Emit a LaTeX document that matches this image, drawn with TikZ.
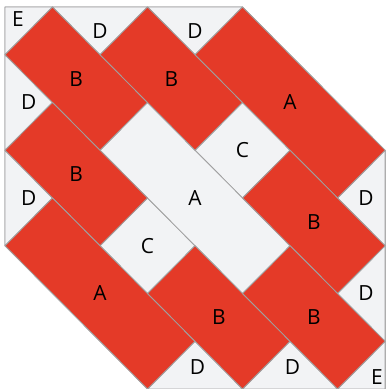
\documentclass[tikz,border=0pt]{standalone}
\usepackage{fontspec}
\setsansfont{Open Sans}
\usepackage{xcolor}
\definecolor{quiltred}{HTML}{E43A28}
\definecolor{quiltlight}{HTML}{F2F3F5}
\definecolor{seamgray}{HTML}{A0A0A0}
\usepackage{tikz}
\tikzset{
    redpatch/.style={
        fill=quiltred,
        draw=seamgray,
        line width=0.5pt,
        line join=round,
    },
    lightpatch/.style={
        fill=quiltlight,
        draw=seamgray,
        line width=0.5pt,
        line join=round,
    },
    patchlabel/.style={
        font=\sffamily\fontsize{12.5}{14}\selectfont,
        text=black,
        inner sep=0pt,
    },
}

\begin{document}
\begin{tikzpicture}[x=1cm, y=-1.005cm]
    \useasboundingbox (-0.105,-0.1466) rectangle (8.021,8.0);

    % light patches
    \draw[lightpatch] (0,0) -- (5,0) -- (8,3) -- (8,8) -- (3,8) -- (0,5) -- cycle;
    \draw[lightpatch] (0,0) -- (1,0) -- (0,1) -- cycle;
    \draw[lightpatch] (7,8) -- (8,8) -- (8,7) -- cycle;
    \draw[lightpatch] (1,0) -- (3,0) -- (2,1) -- cycle;
    \draw[lightpatch] (3,0) -- (5,0) -- (4,1) -- cycle;
    \draw[lightpatch] (0,1) -- (1,2) -- (0,3) -- cycle;
    \draw[lightpatch] (0,3) -- (1,4) -- (0,5) -- cycle;
    \draw[lightpatch] (8,3) -- (8,5) -- (7,4) -- cycle;
    \draw[lightpatch] (8,5) -- (8,7) -- (7,6) -- cycle;
    \draw[lightpatch] (3,8) -- (5,8) -- (4,7) -- cycle;
    \draw[lightpatch] (5,8) -- (7,8) -- (6,7) -- cycle;
    \draw[lightpatch] (2,5) -- (3,4) -- (4,5) -- (3,6) -- cycle;
    \draw[lightpatch] (4,3) -- (5,2) -- (6,3) -- (5,4) -- cycle;
    \draw[lightpatch] (2,3) -- (3,2) -- (6,5) -- (5,6) -- cycle;

    % red patches
    \draw[redpatch] (0,1) -- (1,0) -- (3,2) -- (2,3) -- cycle;
    \draw[redpatch] (2,1) -- (3,0) -- (5,2) -- (4,3) -- cycle;
    \draw[redpatch] (4,1) -- (5,0) -- (8,3) -- (7,4) -- cycle;
    \draw[redpatch] (0,3) -- (1,2) -- (3,4) -- (2,5) -- cycle;
    \draw[redpatch] (0,5) -- (1,4) -- (4,7) -- (3,8) -- cycle;
    \draw[redpatch] (5,4) -- (6,3) -- (8,5) -- (7,6) -- cycle;
    \draw[redpatch] (3,6) -- (4,5) -- (6,7) -- (5,8) -- cycle;
    \draw[redpatch] (5,6) -- (6,5) -- (8,7) -- (7,8) -- cycle;

    % labels
    \node[patchlabel] (cornerNW) at (0.27,0.25) {E};
    \node[patchlabel] (cornerSE) at (7.83,7.74) {E};
    \node[patchlabel] (edgeN1) at (2,0.5) {D};
    \node[patchlabel] (edgeN2) at (4,0.5) {D};
    \node[patchlabel] (edgeW1) at (0.5,2) {D};
    \node[patchlabel] (edgeW2) at (0.5,4) {D};
    \node[patchlabel] (edgeE1) at (7.6,4) {D};
    \node[patchlabel] (edgeE2) at (7.6,6) {D};
    \node[patchlabel] (edgeS1) at (4.05,7.55) {D};
    \node[patchlabel] (edgeS2) at (6.05,7.55) {D};
    \node[patchlabel] (barNE) at (6,2) {A};
    \node[patchlabel] (barMid) at (4,4) {A};
    \node[patchlabel] (barSW) at (2,6) {A};
    \node[patchlabel] (brick1) at (1.5,1.5) {B};
    \node[patchlabel] (brick2) at (3.5,1.5) {B};
    \node[patchlabel] (brick3) at (1.5,3.5) {B};
    \node[patchlabel] (brick4) at (6.5,4.5) {B};
    \node[patchlabel] (brick5) at (4.5,6.5) {B};
    \node[patchlabel] (brick6) at (6.5,6.5) {B};
    \node[patchlabel] (squareNE) at (5,3) {C};
    \node[patchlabel] (squareSW) at (3,5) {C};
\end{tikzpicture}
\end{document}
